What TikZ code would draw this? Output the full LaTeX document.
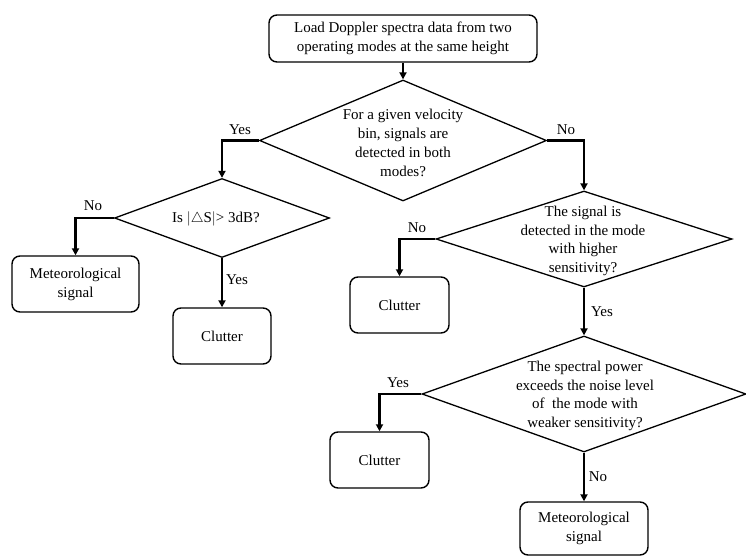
\documentclass[tikz,border=0pt]{standalone}
\usepackage{fontspec}
\setmainfont{Liberation Serif}
\usetikzlibrary{shapes.geometric,arrows.meta}

\tikzset{
  stepbox/.style={draw, line width=1.4pt, rounded corners=8pt, align=center, inner sep=0pt,
    font=\fontsize{15}{19}\selectfont},
  decision/.style={draw, line width=1.3pt, diamond, inner sep=0pt},
  asktext/.style={align=center, inner sep=0pt, font=\fontsize{15}{18.8}\selectfont},
  answer/.style={inner sep=0pt, font=\fontsize{15}{18}\selectfont},
  link/.style={line width=2.4pt, -{Triangle[length=7pt,width=7pt]}},
}

\begin{document}
\begin{tikzpicture}[x=1pt,y=-1pt]

  % Page frame
  \useasboundingbox (0,0) rectangle (746,556);

  % Start box
  \node[stepbox, minimum width=268pt, minimum height=47pt] (load) at (403,38.5)
    {Load Doppler spectra data from two\\operating modes at the same height};

  % First question
  \node[decision, minimum width=287pt, minimum height=121pt] (both) at (403,140.5) {};
  \node[asktext] (bothtext) at (403,143)
    {For a given velocity\\bin, signals are\\detected in both\\modes?};

  % Left branch
  \node[decision, minimum width=215pt, minimum height=79pt] (diff) at (222,218) {};
  \node[asktext] (difftext) at (216,219) {Is $|\triangle$S$|$> 3dB?};
  \node[stepbox, minimum width=127pt, minimum height=56pt] (meteoA) at (75.5,284)
    {Meteorological\\signal};
  \node[stepbox, minimum width=98pt, minimum height=56pt] (clutterA) at (222,336) {Clutter};

  % Right branch
  \node[decision, minimum width=296pt, minimum height=96pt] (high) at (584,239) {};
  \node[asktext] (hightext) at (583,241)
    {The signal is\\detected in the mode\\with higher\\sensitivity?};
  \node[stepbox, minimum width=99pt, minimum height=56pt] (clutterB) at (399.5,305) {Clutter};

  \node[decision, minimum width=324pt, minimum height=116pt] (weak) at (584,394) {};
  \node[asktext] (weaktext) at (585,396)
    {The spectral power\\exceeds the noise level\\of~ the mode with\\weaker sensitivity?};
  \node[stepbox, minimum width=99pt, minimum height=56pt] (clutterC) at (379.5,460) {Clutter};
  \node[stepbox, minimum width=128pt, minimum height=53pt] (meteoB) at (584,528.5)
    {Meteorological\\signal};

  % Connectors
  \draw[link] (load.south) -- (both.north);
  \draw[link] (both.west) -| (diff.north);
  \draw[link] (both.east) -| (high.north);
  \draw[link] (diff.west) -| (meteoA.north);
  \draw[link] (diff.south) -- (clutterA.north);
  \draw[link] (high.west) -| (clutterB.north);
  \draw[link] (high.south) -- (weak.north);
  \draw[link] (weak.west) -| (clutterC.north);
  \draw[link] (weak.south) -- (meteoB.north);

  % Answers
  \node[answer] (yesA) at (240,130) {Yes};
  \node[answer] (noA) at (566,130) {No};
  \node[answer] (noB) at (93,206) {No};
  \node[answer] (yesB) at (237,280) {Yes};
  \node[answer] (noC) at (417,228) {No};
  \node[answer] (yesC) at (602,312) {Yes};
  \node[answer] (yesD) at (398,383) {Yes};
  \node[answer] (noD) at (598,477) {No};

\end{tikzpicture}
\end{document}
